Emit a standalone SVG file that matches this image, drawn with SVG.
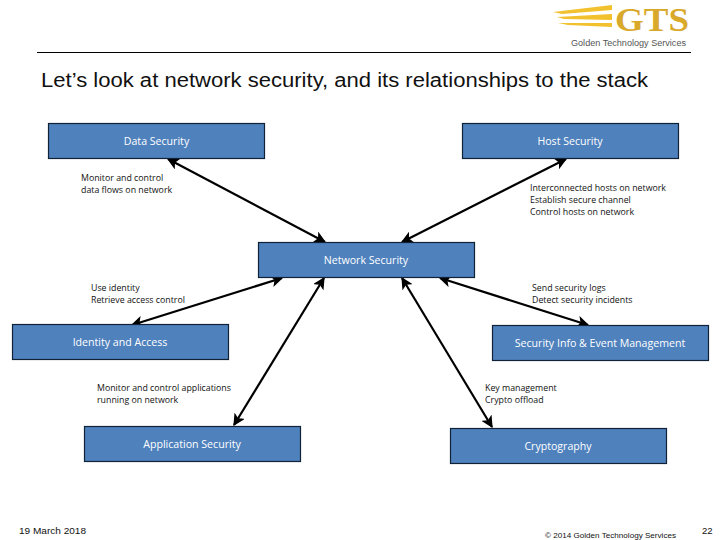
<svg xmlns="http://www.w3.org/2000/svg" width="720" height="540" viewBox="0 0 720 540">
<style>
.n{fill:#4f81bd;stroke:#0f2238;stroke-width:1.2}
.t{font-family:"Open Sans","Liberation Sans",sans-serif;font-size:10.600px;fill:#fff;text-anchor:middle}
.l{font-family:"Open Sans","Liberation Sans",sans-serif;font-size:8.800px;fill:#111}
.c{stroke:#000;stroke-width:2.200;fill:none;marker-start:url(#a);marker-end:url(#a)}
.f{font-family:"Liberation Sans",sans-serif;fill:#111}
</style>
<defs><marker id="a" viewBox="0 0 10 10" refX="9" refY="5" markerWidth="5.500" markerHeight="5.500" orient="auto-start-reverse" markerUnits="strokeWidth"><path d="M0 0L10 5L0 10L2.500 5z" fill="#000"/></marker></defs>
<rect width="720" height="540" fill="#fff"/>
<g id="logo">
<path d="M553 12L612 5V10L562 14zM557 17L612 14V20L564 19zM558 23L612 23V27L568 25z" fill="#f2c12e"/>
<text x="615" y="31" font-family="Liberation Serif,serif" font-weight="700" font-size="34.500" fill="#d9a92c" textLength="74" lengthAdjust="spacingAndGlyphs">GTS</text>
<text x="571" y="46" font-family="Liberation Sans,sans-serif" font-size="8.400" fill="#555" textLength="115" lengthAdjust="spacingAndGlyphs">Golden Technology Services</text>
</g>
<path d="M37 52.500H691" stroke="#000" stroke-width="1"/>
<text id="title" x="41" y="87" font-family="Liberation Sans,sans-serif" font-size="20" fill="#111" textLength="607" lengthAdjust="spacingAndGlyphs">Let’s look at network security, and its relationships to the stack</text>
<g id="connectors">
<path class="c" d="M168 159L325 242"/>
<path class="c" d="M566 159L402 242"/>
<path class="c" d="M132 325L282 278"/>
<path class="c" d="M588 325L440 278"/>
<path class="c" d="M234 425L324 278"/>
<path class="c" d="M492 427L402 278"/>
</g>
<g id="data-security"><rect class="n" x="48.500" y="123.500" width="216" height="35"/><text class="t" x="156.500" y="145">Data Security</text></g>
<g id="host-security"><rect class="n" x="462.500" y="123.500" width="216" height="35"/><text class="t" x="570" y="145">Host Security</text></g>
<g id="network-security"><rect class="n" x="258.500" y="242.500" width="216" height="35"/><text class="t" x="366" y="264">Network Security</text></g>
<g id="identity-access"><rect class="n" x="12.500" y="324.500" width="216" height="35"/><text class="t" x="120" y="346">Identity and Access</text></g>
<g id="siem"><rect class="n" x="492.500" y="325.500" width="216" height="35"/><text class="t" x="600" y="347">Security Info &amp; Event Management</text></g>
<g id="application-security"><rect class="n" x="84.500" y="426.500" width="216" height="35"/><text class="t" x="192" y="448">Application Security</text></g>
<g id="cryptography"><rect class="n" x="450.500" y="428.500" width="216" height="35"/><text class="t" x="558" y="450">Cryptography</text></g>
<g id="labels">
<text class="l" x="81" y="181">Monitor and control</text><text class="l" x="81" y="193">data flows on network</text>
<text class="l" x="530" y="191">Interconnected hosts on network</text><text class="l" x="530" y="203">Establish secure channel</text><text class="l" x="530" y="215">Control hosts on network</text>
<text class="l" x="91" y="291">Use identity</text><text class="l" x="91" y="303">Retrieve access control</text>
<text class="l" x="532" y="291">Send security logs</text><text class="l" x="532" y="303">Detect security incidents</text>
<text class="l" x="97" y="391">Monitor and control applications</text><text class="l" x="97" y="403">running on network</text>
<text class="l" x="485" y="391">Key management</text><text class="l" x="485" y="403">Crypto offload</text>
</g>
<text class="f" x="19" y="534" font-size="9.500" textLength="67" lengthAdjust="spacingAndGlyphs">19 March 2018</text>
<text class="f" x="545" y="538" font-size="8" textLength="131" lengthAdjust="spacingAndGlyphs">© 2014 Golden Technology Services</text>
<text class="f" x="702" y="534" font-size="9.500">22</text>
</svg>
